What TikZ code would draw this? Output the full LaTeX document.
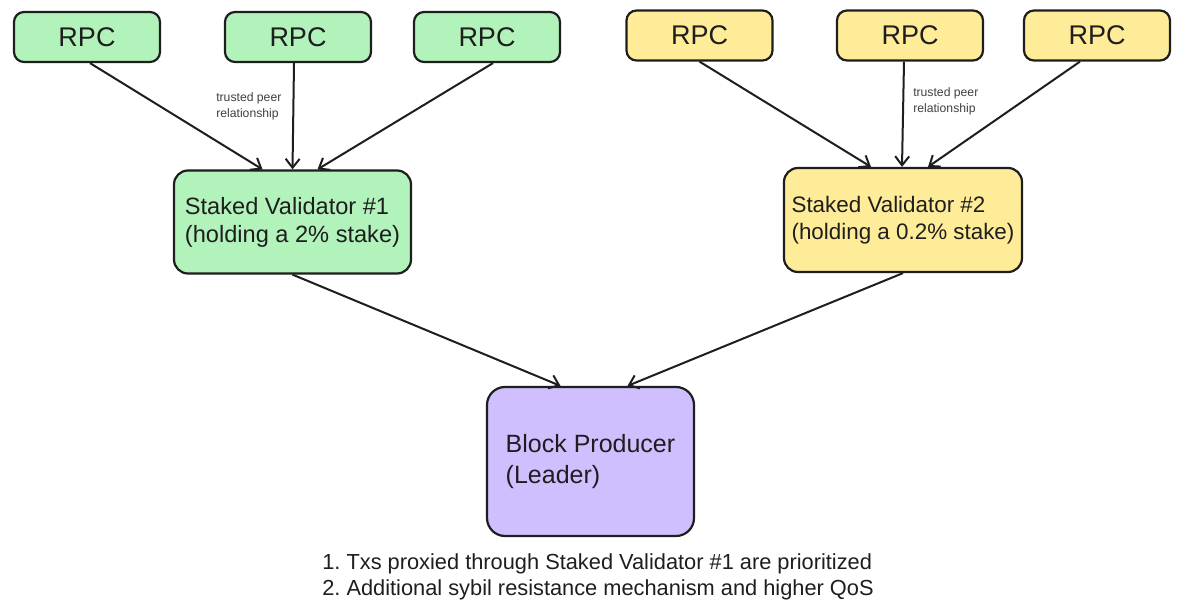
\documentclass[tikz,border=0pt]{standalone}
\usepackage{fontspec}
\setmainfont{Liberation Sans}
\usetikzlibrary{arrows.meta,calc}
\definecolor{ink}{HTML}{1E1E1E}
\definecolor{gfill}{HTML}{B2F2BB}
\definecolor{yfill}{HTML}{FFEC99}
\definecolor{pfill}{HTML}{D0BFFF}
\frenchspacing
\begin{document}
\begin{tikzpicture}[x=1pt,y=-1pt,
 box/.style={draw=ink, line width=2.2pt, rounded corners=10pt, text=ink, inner sep=0pt},
 rpc/.style={box, minimum width=146pt, minimum height=50pt, font=\fontsize{27}{32}\selectfont},
 val/.style={box, rounded corners=14pt, minimum width=237pt, minimum height=103pt, align=left},
 conn/.style={draw=ink, line width=2pt, -{Straight Barb[length=9pt,width=14pt]}},
 lbl/.style={font=\fontsize{12.2}{16}\selectfont, text=ink!85, align=left, inner sep=0pt}]
\useasboundingbox (0,0) rectangle (1193,609);
\fill[white] (0,0) rectangle (1193,609);
% green group
\node[rpc, fill=gfill] (g1) at (87,37) {RPC};
\node[rpc, fill=gfill] (g2) at (298,37) {RPC};
\node[rpc, fill=gfill] (g3) at (487,37) {RPC};
\node[val, fill=gfill, font=\fontsize{23.6}{28}\selectfont] (v1) at (292.5,222) {Staked Validator \#1\\(holding a 2\% stake)};
% yellow group
\node[rpc, fill=yfill] (y1) at (699.5,35.5) {RPC};
\node[rpc, fill=yfill] (y2) at (910,35.5) {RPC};
\node[rpc, fill=yfill] (y3) at (1097,35.5) {RPC};
\node[val, fill=yfill, minimum width=238pt, minimum height=104pt, font=\fontsize{22.4}{27}\selectfont] (v2) at (903,220) {Staked Validator \#2\\(holding a 0.2\% stake)};
% block producer
\node[box, fill=pfill, rounded corners=18pt, minimum width=207pt, minimum height=149pt, align=left, font=\fontsize{25}{31}\selectfont] (bp) at (590.5,461.5) {Block Producer\\(Leader)};
% connectors
\draw[conn] ($(g1.south)+(3,0)$) -- ($(v1.north)+(-30,0)$);
\draw[conn] ($(g2.south)+(-4,0)$) -- node[lbl, pos=0.41, left=11pt] {trusted peer\\relationship} (v1.north);
\draw[conn] ($(g3.south)+(6,0)$) -- ($(v1.north)+(25,0)$);
\draw[conn] (y1.south) -- ($(v2.north)+(-32,0)$);
\draw[conn] ($(y2.south)+(-6,0)$) -- node[lbl, pos=0.38, right=9pt] {trusted peer\\relationship} ($(v2.north)+(-1,0)$);
\draw[conn] ($(y3.south)+(-17,0)$) -- ($(v2.north)+(25,0)$);
\draw[conn] (v1.south) -- ($(bp.north)+(-30,0)$);
\draw[conn] (v2.south) -- ($(bp.north)+(37,0)$);
% note
\node[font=\fontsize{21.8}{26}\selectfont, text=ink, align=left, inner sep=0pt] (note) at (598,577) {1. Txs proxied through Staked Validator \#1 are prioritized\\2. Additional sybil resistance mechanism and higher QoS};
\end{tikzpicture}
\end{document}
